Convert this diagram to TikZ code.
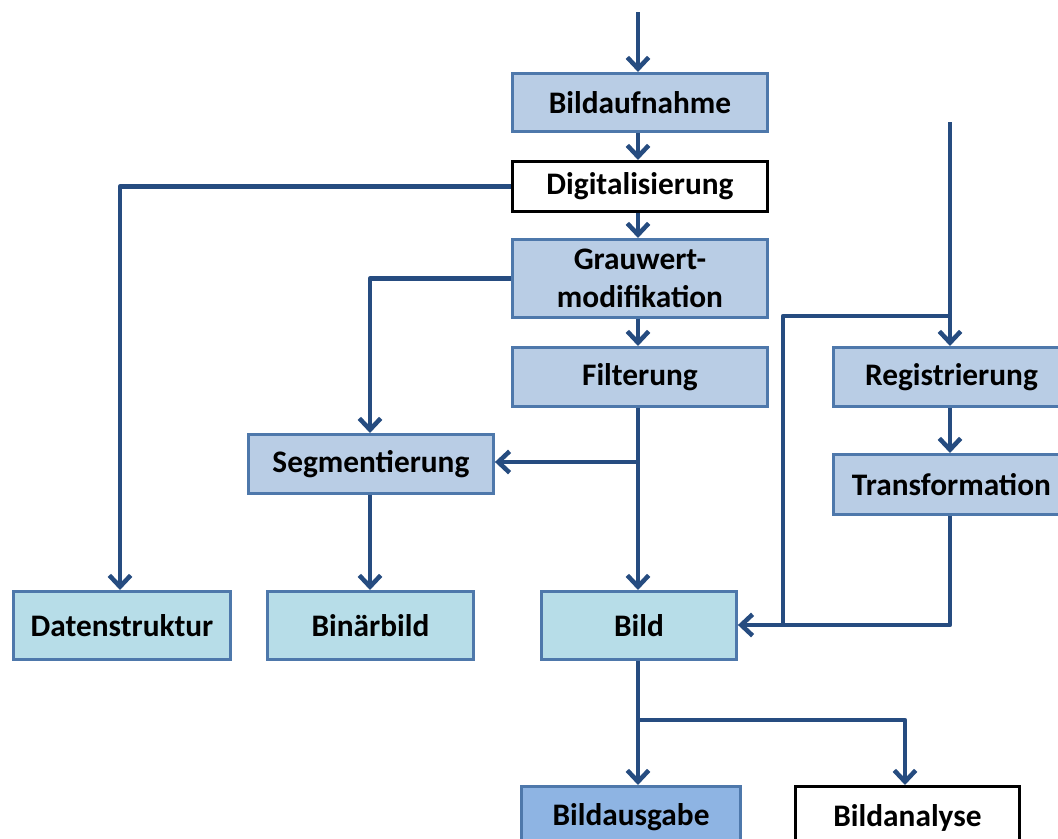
\documentclass[tikz,border=0pt]{standalone}
\usepackage{fontspec}
\setmainfont{Carlito}
\usetikzlibrary{arrows.meta}
\definecolor{boxblue}{HTML}{B9CDE5}
\definecolor{boxcyan}{HTML}{B7DDE8}
\definecolor{boxmid}{HTML}{8EB4E3}
\definecolor{edgeblue}{HTML}{4E78AB}
\definecolor{linkblue}{HTML}{264C80}
\tikzset{
  blk/.style={draw=edgeblue, line width=2.2pt, inner sep=0pt, anchor=north west,
              font=\bfseries\fontsize{23.5}{28}\selectfont, align=center},
  bluebox/.style={blk, fill=boxblue},
  cyanbox/.style={blk, fill=boxcyan},
  midbox/.style={blk, fill=boxmid},
  plainbox/.style={blk, fill=white, draw=black},
  link/.style={draw=linkblue, line width=3.4pt, line join=round},
  arr/.style={link, -{Straight Barb[length=8.5pt, width=16pt, line width=3.4pt]}}
}
\begin{document}
\begin{tikzpicture}[x=0.75pt, y=-0.75pt]
\useasboundingbox (0,0) rectangle (1058,839);
\clip (0,0) rectangle (1058,839);

% processing chain
\node[bluebox, minimum width=255*0.75pt, minimum height=58*0.75pt] (auf) at (511,72) {Bildaufnahme};
\node[plainbox, minimum width=255*0.75pt, minimum height=50*0.75pt] (dig) at (511,160) {Digitalisierung};
\node[bluebox, minimum width=255*0.75pt, minimum height=78*0.75pt] (grau) at (511,238) {Grauwert-\\modifikation};
\node[bluebox, minimum width=255*0.75pt, minimum height=59*0.75pt] (filt) at (511,346) {Filterung};
\node[bluebox, minimum width=236*0.75pt, minimum height=59*0.75pt] (reg) at (832,346) {Registrierung};
\node[bluebox, minimum width=236*0.75pt, minimum height=60*0.75pt] (trans) at (832,453) {Transformation};
\node[bluebox, minimum width=245*0.75pt, minimum height=59*0.75pt] (seg) at (247,433) {Segmentierung};

% results
\node[cyanbox, minimum width=217*0.75pt, minimum height=68*0.75pt] (daten) at (12,590) {Datenstruktur};
\node[cyanbox, minimum width=206*0.75pt, minimum height=68*0.75pt] (bin) at (266,590) {Binärbild};
\node[cyanbox, minimum width=195*0.75pt, minimum height=68*0.75pt] (bild) at (540,590) {Bild};
\node[midbox, minimum width=219*0.75pt, minimum height=62*0.75pt] (ausg) at (520,785) {Bildausgabe};
\node[plainbox, minimum width=224*0.75pt, minimum height=62*0.75pt] (anal) at (794,785) {Bildanalyse};

% free ends and branch points
\coordinate (in1) at (638,12);
\coordinate (in2) at (950,122);
\coordinate (jf) at (638,462);
\coordinate (jr) at (950,316);
\coordinate (jb) at (638,720);
\coordinate (cd) at (120,0);
\coordinate (cs) at (370,0);
\coordinate (cb) at (783,625);
\coordinate (ca) at (905,720);

% main column
\draw[arr] (in1) -- (auf.north -| in1);
\draw[arr] (auf.south -| in1) -- (dig.north -| in1);
\draw[arr] (dig.south -| in1) -- (grau.north -| in1);
\draw[arr] (grau.south -| in1) -- (filt.north -| in1);
\draw[arr] (filt.south -| in1) -- (bild.north -| in1);

% side branches
\draw[arr] (dig.west) -| (daten.north -| cd);
\draw[arr] (grau.west) -| (seg.north -| cs);
\draw[arr] (jf) -- (seg.east |- jf);
\draw[arr] (seg.south -| cs) -- (bin.north -| cs);

% registration path
\draw[arr] (in2) -- (reg.north -| in2);
\draw[arr] (reg.south -| in2) -- (trans.north -| in2);
\draw[link] (jr) -| (cb);
\draw[arr] (trans.south -| in2) |- (bild.east |- cb);

% output
\draw[arr] (bild.south -| in1) -- (ausg.north -| in1);
\draw[arr] (jb) -| (anal.north -| ca);
\end{tikzpicture}
\end{document}
